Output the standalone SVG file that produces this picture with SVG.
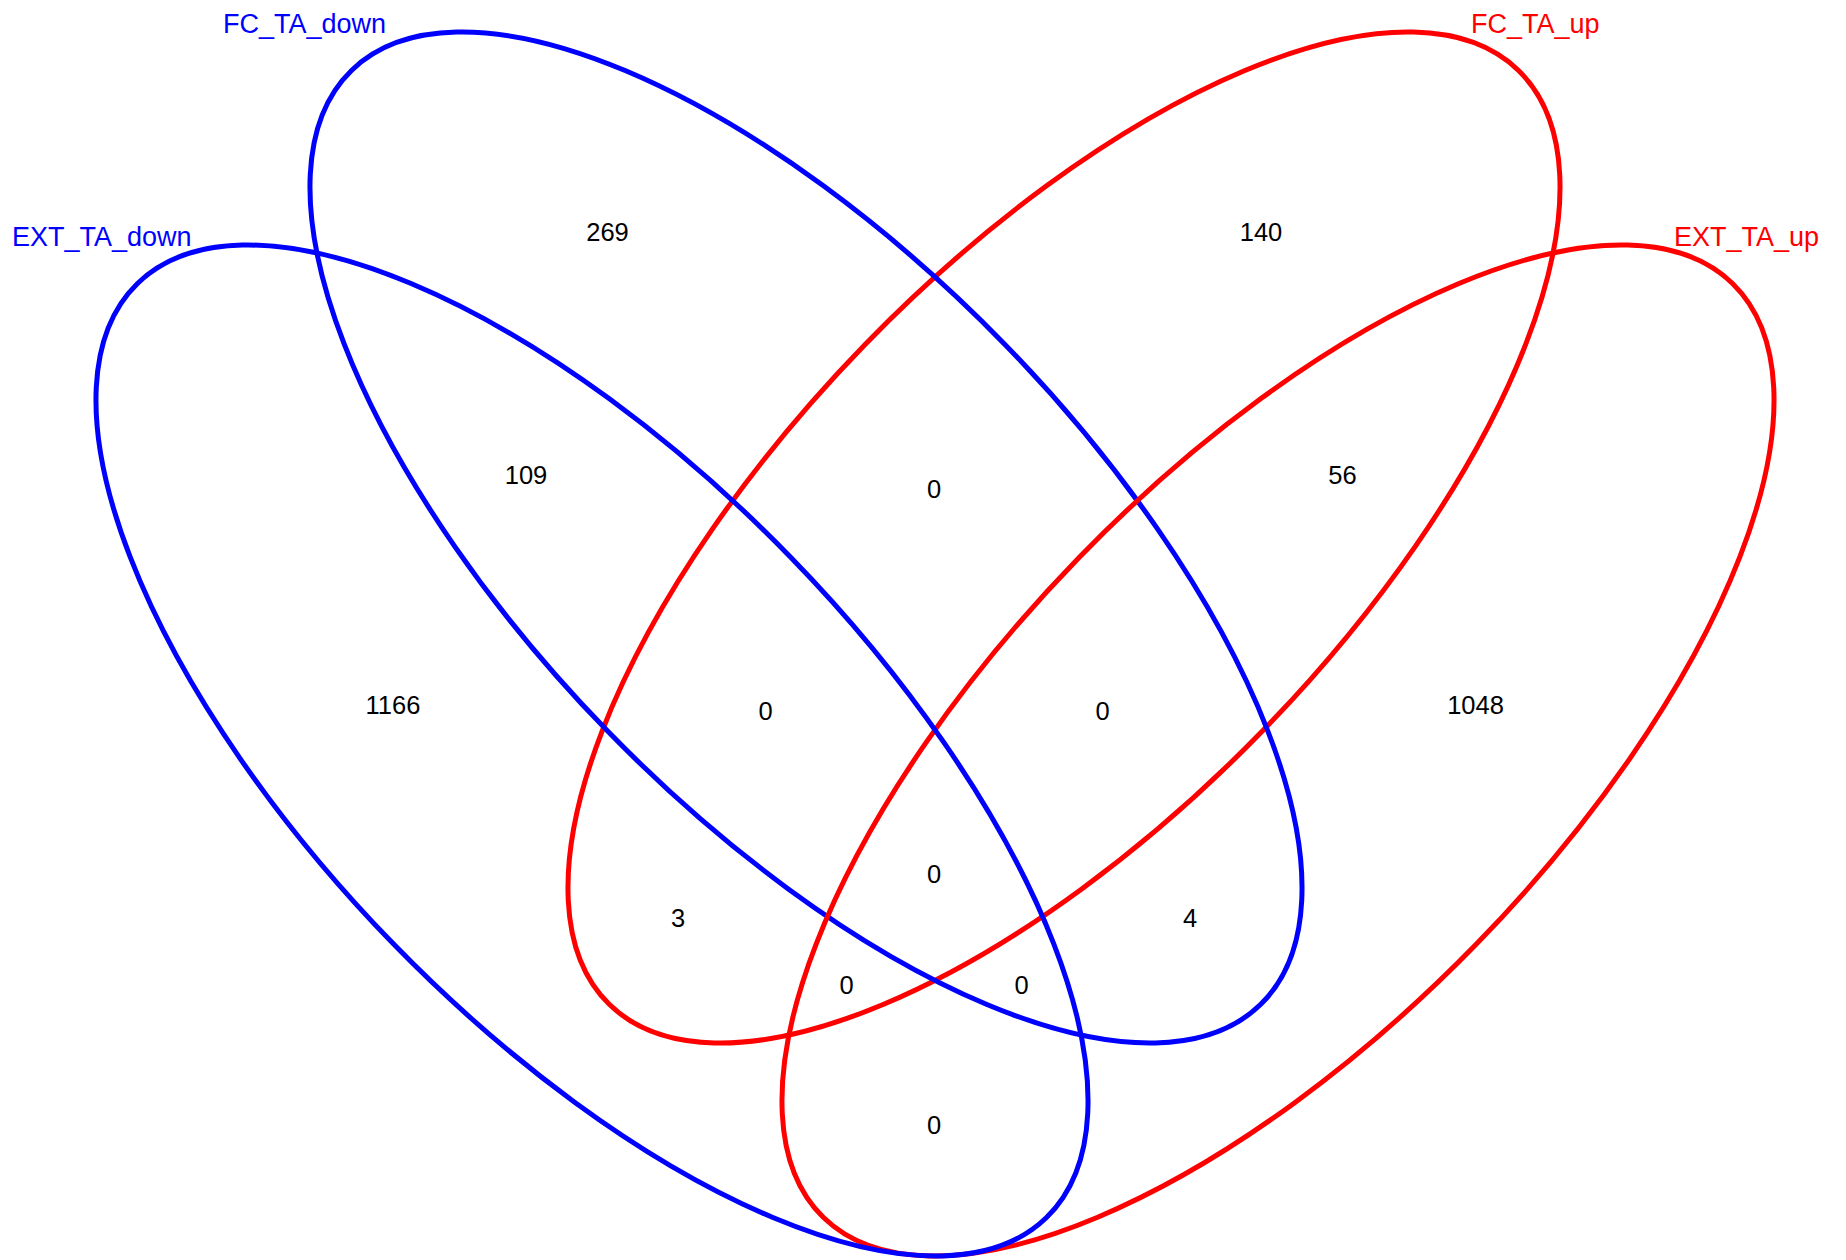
<svg xmlns="http://www.w3.org/2000/svg" width="1846" height="1260" viewBox="0 0 1846 1260">
  <style>
    .set { fill: none; stroke-width: 5; stroke-linejoin: round; }
    .blue { stroke: #0000FF; }
    .red { stroke: #FF0000; }
    .num { font-family: "Liberation Sans", Arial, sans-serif; font-size: 25.5px; fill: #000000; text-anchor: middle; }
    .lab { font-family: "Liberation Sans", Arial, sans-serif; font-size: 27px; }
    .lb { fill: #0000FF; }
    .lr { fill: #FF0000; }
  </style>
  <rect x="0" y="0" width="1846" height="1260" fill="#FFFFFF"/>
  <g id="sets">
    <g id="FC_TA_up">
      <ellipse class="set red" cx="1064" cy="537.5" rx="651.7" ry="277.2" transform="rotate(-45.78 1064 537.5)"/>
    </g>
    <g id="FC_TA_down">
      <ellipse class="set blue" cx="806" cy="537.5" rx="651.7" ry="277.2" transform="rotate(45.78 806 537.5)"/>
    </g>
    <g id="EXT_TA_up">
      <ellipse class="set red" cx="1278" cy="750.5" rx="651.7" ry="277.2" transform="rotate(-45.78 1278 750.5)"/>
    </g>
    <g id="EXT_TA_down">
      <ellipse class="set blue" cx="592" cy="750.5" rx="651.7" ry="277.2" transform="rotate(45.78 592 750.5)"/>
    </g>
  </g>
  <g id="set-labels">
    <text class="lab lb" x="223" y="32.5">FC_TA_down</text>
    <text class="lab lr" x="1471" y="32.5">FC_TA_up</text>
    <text class="lab lb" x="12" y="246">EXT_TA_down</text>
    <text class="lab lr" x="1674" y="246">EXT_TA_up</text>
  </g>
  <g id="counts">
    <text class="num" x="607.5" y="241">269</text>
    <text class="num" x="1261" y="241">140</text>
    <text class="num" x="526" y="484">109</text>
    <text class="num" x="934" y="497.5">0</text>
    <text class="num" x="1342.5" y="484">56</text>
    <text class="num" x="393" y="714">1166</text>
    <text class="num" x="765.5" y="720">0</text>
    <text class="num" x="1102.5" y="720">0</text>
    <text class="num" x="1475.5" y="714">1048</text>
    <text class="num" x="934" y="883">0</text>
    <text class="num" x="678" y="927">3</text>
    <text class="num" x="1190" y="927">4</text>
    <text class="num" x="846.5" y="993.5">0</text>
    <text class="num" x="1021.5" y="993.5">0</text>
    <text class="num" x="934" y="1134">0</text>
  </g>
</svg>
